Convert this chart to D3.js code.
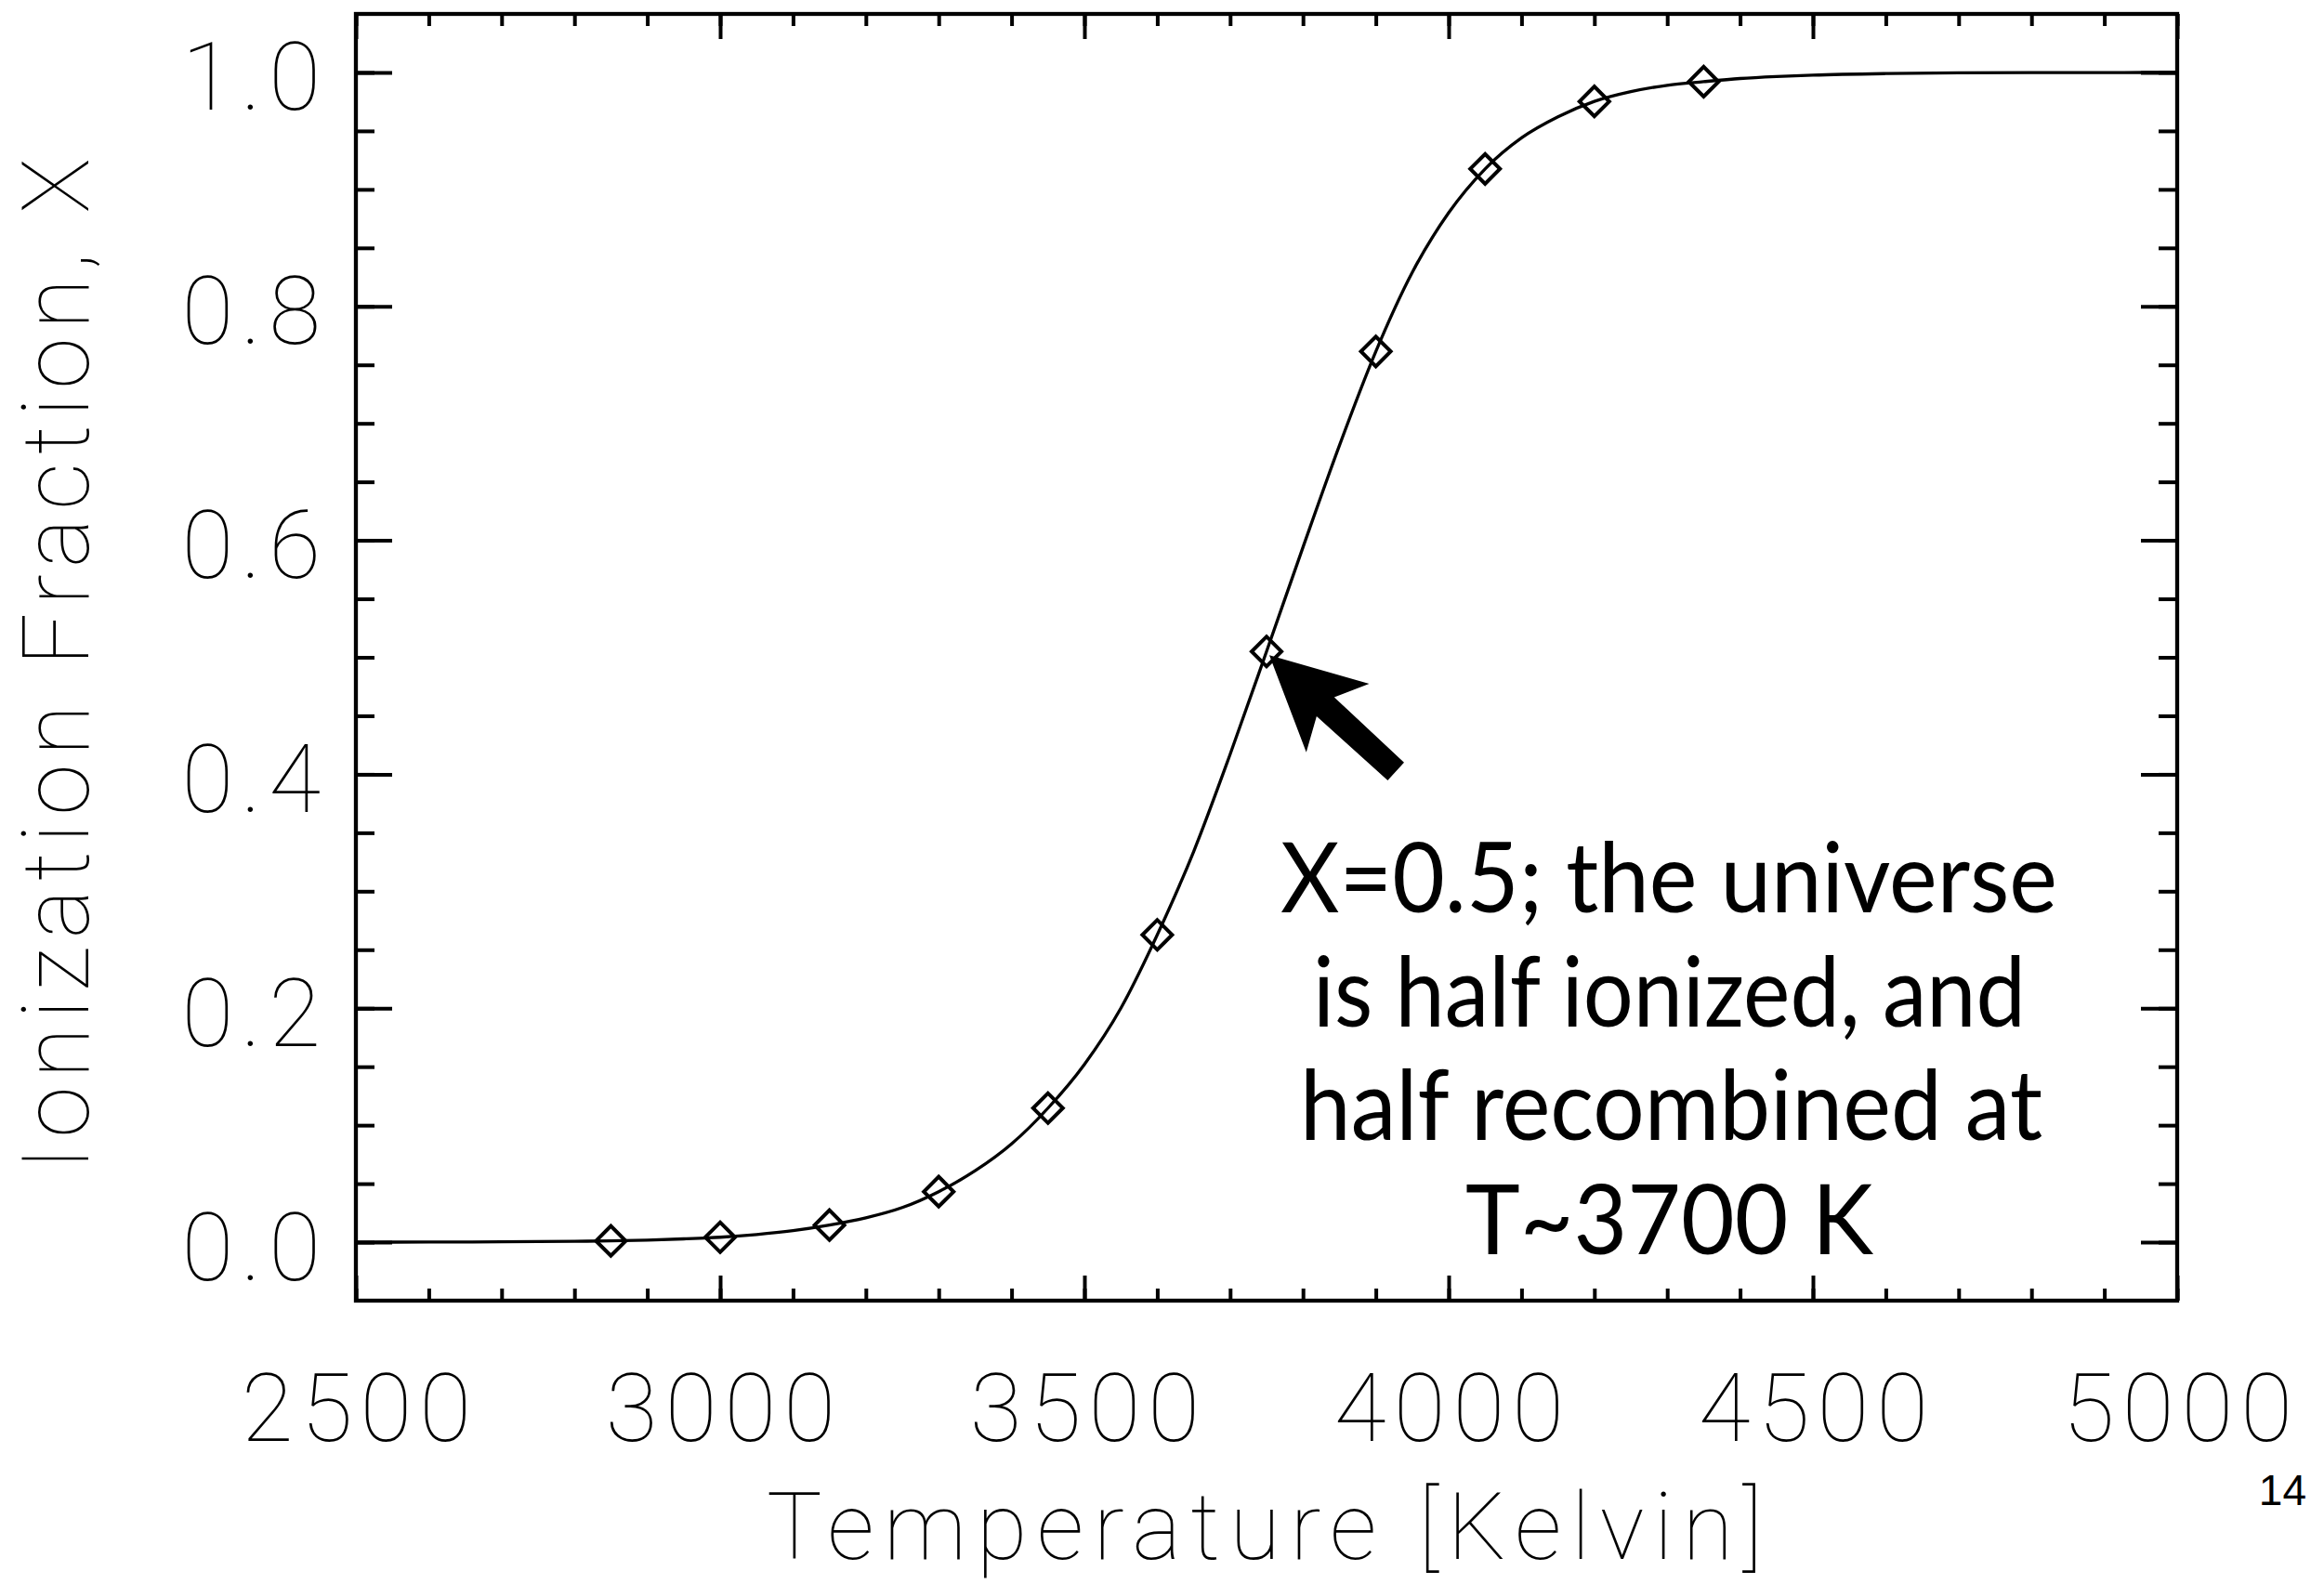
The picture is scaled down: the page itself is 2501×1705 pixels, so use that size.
<!DOCTYPE html>
<html>
<head>
<meta charset="utf-8">
<script src="https://cdn.jsdelivr.net/npm/d3@7"></script>
<style>
body { margin: 0; background: #fff; }
svg { display: block; background: #fff; }
.axis line { stroke: #000; stroke-width: 4; }
.axis path { display: none; }
.axis text { font-family: Roboto, "DejaVu Sans", sans-serif; font-weight: 100; font-size: 102px; letter-spacing: 8px; fill: #000; }
.title { font-family: Roboto, "DejaVu Sans", sans-serif; font-weight: 100; font-size: 100px; fill: #000; }
.note { font-family: Lato, "Open Sans", sans-serif; font-size: 104px; fill: #000; }
.page { font-family: "Liberation Sans", Arial, sans-serif; font-size: 46px; fill: #000; }
</style>
</head>
<body>
<svg id="chart" width="2501" height="1705"></svg>
<script>
// ionization fraction along the smooth curve
var curveTemp = [2500, 2600, 2700, 2800, 2850, 2900, 2950, 3000, 3050, 3100,
                 3150, 3200, 3250, 3300, 3350, 3400, 3450, 3500, 3550, 3600,
                 3650, 3700, 3750, 3800, 3850, 3900, 3950, 4000, 4050, 4100,
                 4150, 4200, 4250, 4300, 4350, 4400, 4450, 4500, 4600, 4700,
                 4800, 4900, 5000];
var curveFrac = [0.0000, 0.0001, 0.0003, 0.0007, 0.0011, 0.0018, 0.0028, 0.0042, 0.0065, 0.0098,
                 0.0146, 0.0208, 0.0296, 0.0432, 0.0610, 0.0840, 0.1146, 0.1520, 0.2000, 0.2627,
                 0.3340, 0.4170, 0.5050, 0.5940, 0.6810, 0.7614, 0.8290, 0.8800, 0.9175, 0.9440,
                 0.9620, 0.9752, 0.9835, 0.9890, 0.9921, 0.9948, 0.9965, 0.9977, 0.9990, 0.9996,
                 0.9998, 0.9999, 1.0000];

// sampled points (diamonds)
var pointTemp = [2850, 3000, 3150, 3300, 3450, 3600, 3750, 3900, 4050, 4200, 4350];
var pointFrac = [0.0011, 0.0042, 0.0146, 0.0432, 0.1146, 0.2627, 0.505, 0.7614, 0.9175, 0.9752, 0.9921];

var xTicks = [2500, 3000, 3500, 4000, 4500, 5000];
var yTicks = [0.0, 0.2, 0.4, 0.6, 0.8, 1.0];

var xTitle = "Temperature [Kelvin]";
var yTitle = "Ionization Fraction, X";
var noteLines = ["X=0.5; the universe", "is half ionized, and", "half recombined at", "T~3700 K"];
var pageNumber = "14";

(function(){
    var svg = d3.select("#chart");

    // plot box
    var x0 = 383, x1 = 2343, y0 = 15, y1 = 1400;

    var x = d3.scaleLinear().domain([2500, 5000]).range([x0, x1]);
    var y = d3.scaleLinear().domain([-0.05, 1.05]).range([y1, y0]);

    var curve = curveTemp.map(function(t, i){ return {t: t, v: curveFrac[i]}; });
    var points = pointTemp.map(function(t, i){ return {t: t, v: pointFrac[i]}; });

    svg.append("defs").append("clipPath").attr("id", "plotclip")
        .append("rect")
        .attr("x", x0).attr("y", y0)
        .attr("width", x1 - x0).attr("height", y1 - y0);

    // minor ticks, inward on all four sides
    var xMinor = x.ticks(25);
    var yMinor = y.ticks(22).filter(function(d){ return d > -0.01 && d < 1.01; });

    svg.append("g").attr("class", "axis")
        .attr("transform", "translate(0," + y1 + ")")
        .call(d3.axisBottom(x).tickValues(xMinor).tickSize(-13).tickFormat(""));
    svg.append("g").attr("class", "axis")
        .attr("transform", "translate(0," + y0 + ")")
        .call(d3.axisTop(x).tickValues(xMinor).tickSize(-13).tickFormat(""));
    svg.append("g").attr("class", "axis")
        .attr("transform", "translate(" + x0 + ",0)")
        .call(d3.axisLeft(y).tickValues(yMinor).tickSize(-20).tickFormat(""));
    svg.append("g").attr("class", "axis")
        .attr("transform", "translate(" + x1 + ",0)")
        .call(d3.axisRight(y).tickValues(yMinor).tickSize(-20).tickFormat(""));

    // major ticks, labelled on bottom and left
    var gx = svg.append("g").attr("class", "axis")
        .attr("transform", "translate(0," + y1 + ")")
        .call(d3.axisBottom(x).tickValues(xTicks).tickSize(-27).tickFormat(d3.format("d")));
    gx.selectAll("text").attr("y", 151).attr("dy", null).attr("dx", 4);

    svg.append("g").attr("class", "axis")
        .attr("transform", "translate(0," + y0 + ")")
        .call(d3.axisTop(x).tickValues(xTicks).tickSize(-27).tickFormat(""));

    var gy = svg.append("g").attr("class", "axis")
        .attr("transform", "translate(" + x0 + ",0)")
        .call(d3.axisLeft(y).tickValues(yTicks).tickSize(-39).tickFormat(d3.format(".1f")));
    gy.selectAll("text").attr("x", -30).attr("dy", null).attr("y", 40);

    svg.append("g").attr("class", "axis")
        .attr("transform", "translate(" + x1 + ",0)")
        .call(d3.axisRight(y).tickValues(yTicks).tickSize(-39).tickFormat(""));

    // frame
    svg.append("rect")
        .attr("x", x0).attr("y", y0)
        .attr("width", x1 - x0).attr("height", y1 - y0)
        .attr("fill", "none").attr("stroke", "#000").attr("stroke-width", 4.3);

    // curve
    var line = d3.line()
        .x(function(d){ return x(d.t); })
        .y(function(d){ return y(d.v); })
        .curve(d3.curveMonotoneX);

    svg.append("path")
        .datum(curve)
        .attr("clip-path", "url(#plotclip)")
        .attr("d", line)
        .attr("fill", "none")
        .attr("stroke", "#000")
        .attr("stroke-width", 3.3);

    // diamonds
    var diamond = d3.symbol().type(d3.symbolSquare).size(512);
    svg.append("g").selectAll("path")
        .data(points)
        .enter().append("path")
        .attr("d", diamond)
        .attr("transform", function(d){ return "translate(" + x(d.t) + "," + y(d.v) + ") rotate(45)"; })
        .attr("fill", "none")
        .attr("stroke", "#000")
        .attr("stroke-width", 4);

    // axis titles
    svg.append("text").attr("class", "title")
        .attr("x", 825).attr("y", 1678)
        .attr("textLength", 1072).attr("lengthAdjust", "spacing")
        .text(xTitle);

    svg.append("text").attr("class", "title")
        .attr("transform", "translate(95,1260) rotate(-90)")
        .attr("x", 0).attr("y", 0)
        .attr("textLength", 1090).attr("lengthAdjust", "spacing")
        .text(yTitle);

    // arrow pointing at the half-ionized point
    var half = points[6];
    var tipX = x(half.t) + 3, tipY = y(half.v) + 4;
    var ang = Math.atan2(125.5, 136.5);
    var arrowShape = [[0, 0], [100, -50], [82, -14], [185, -13], [185, 13], [82, 14], [100, 50]];
    svg.append("polygon")
        .attr("points", arrowShape.map(function(p){
            var px = tipX + p[0] * Math.cos(ang) - p[1] * Math.sin(ang);
            var py = tipY + p[0] * Math.sin(ang) + p[1] * Math.cos(ang);
            return px + "," + py;
        }).join(" "))
        .attr("fill", "#000");

    // annotation text
    var noteLeft = [1378, 1413, 1399, 1577];
    var noteWidth = [836, 767, 799, 439];
    svg.append("g").selectAll("text")
        .data(noteLines)
        .enter().append("text")
        .attr("class", "note")
        .attr("x", function(d, i){ return noteLeft[i]; })
        .attr("y", function(d, i){ return 982 + i * 122.7; })
        .attr("textLength", function(d, i){ return noteWidth[i]; })
        .attr("lengthAdjust", "spacingAndGlyphs")
        .text(function(d){ return d; });

    svg.append("text").attr("class", "page")
        .attr("x", 2482).attr("y", 1620)
        .attr("text-anchor", "end")
        .text(pageNumber);
})();
</script>
</body>
</html>
